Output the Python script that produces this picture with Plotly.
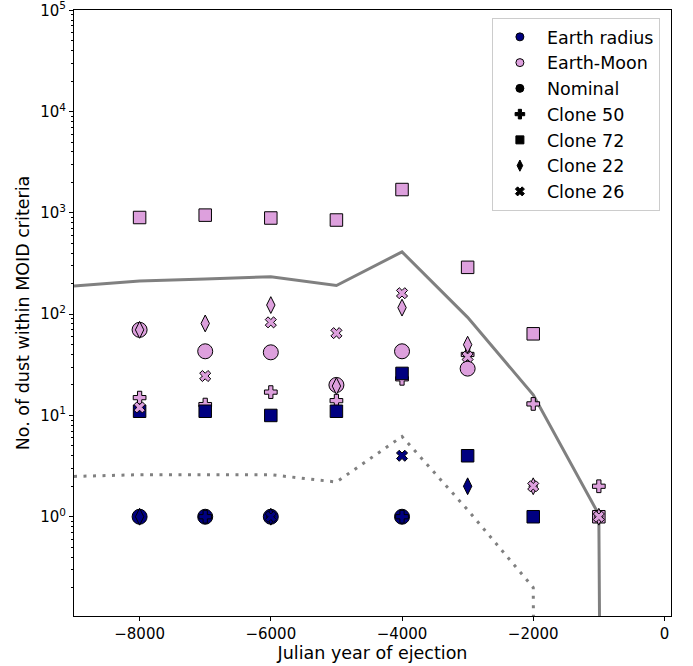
import plotly.graph_objects as go

# ---------------- data ----------------
years = [-8000, -7000, -6000, -5000, -4000, -3000, -2000, -1000]

# Earth radius criterion
er_nominal = [1, 1, 1, None, 1, None, None, None]
er_clone50 = [None, 1, None, None, 1, None, None, None]
er_clone72 = [11, 11, 10, 11, 26, 4, 1, None]
er_clone22 = [1, None, 1, None, None, 2, None, None]
er_clone26 = [None, None, 1, None, 4, None, None, None]

# Earth-Moon criterion
em_nominal = [70, 43, 42, 20, 43, 29, None, None]
em_clone50 = [15, 12.8, 17, 14, 23, 40, 13, 2]
em_clone72 = [900, 950, 890, 850, 1700, 290, 64, 1]
em_clone22 = [70, 81, 123, 19.5, 116, 50, 2, 1]
em_clone26 = [12, 24.5, 83, 65, 161, 38, 2, 1]

# reference curves
curve_years = [-9000, -8000, -7000, -6000, -5000, -4000, -3000, -2000, -1000, 0]
solid_curve = [190, 213, 222, 234, 192, 412, 93, 16, 1.05, 0]
dotted_curve = [2.5, 2.6, 2.6, 2.6, 2.2, 6.2, 1.17, 0.2, 0, 0]

y_tickvals = [1, 10, 100, 1000, 10000, 100000]
y_ticktext = ["10<sup>0</sup>", "10<sup>1</sup>", "10<sup>2</sup>",
              "10<sup>3</sup>", "10<sup>4</sup>", "10<sup>5</sup>"]
y_minor_tickvals = [k * 10.0 ** n for n in range(-1, 5) for k in range(2, 10)]
x_tickvals = [-8000, -6000, -4000, -2000, 0]
x_ticktext = ["\u22128000", "\u22126000", "\u22124000", "\u22122000", "0"]

legend_labels = ["Earth radius", "Earth-Moon", "Nominal", "Clone 50",
                 "Clone 72", "Clone 22", "Clone 26"]

# ---------------- styling ----------------
NAVY = "#000080"
PLUM = "#DDA0DD"
GRAY = "#808080"
FONT = "DejaVu Sans"
LOG_FLOOR = 1e-100  # non-positive values clipped like matplotlib's log scale
Y_RANGE = [-0.98, 5.003]


def clip(vals):
    return [v if v > 0 else LOG_FLOOR for v in vals]


fig = go.Figure()

fig.add_trace(go.Scatter(x=curve_years, y=clip(solid_curve), mode="lines",
                         line=dict(color=GRAY, width=3), showlegend=False,
                         hoverinfo="skip"))
fig.add_trace(go.Scatter(x=curve_years, y=clip(dotted_curve), mode="lines",
                         line=dict(color=GRAY, width=3, dash="3px,6.5px"),
                         showlegend=False, hoverinfo="skip"))

clones = [
    ("circle", 15, er_nominal, em_nominal),
    ("cross", 10.6, er_clone50, em_clone50),
    ("square", 12.5, er_clone72, em_clone72),
    ("diamond-tall", 12, er_clone22, em_clone22),
    ("x", 9.8, er_clone26, em_clone26),
]

for sym, size, er, em in clones:
    for vals, col in ((er, NAVY), (em, PLUM)):
        fig.add_trace(go.Scatter(
            x=years, y=vals, mode="markers", showlegend=False,
            marker=dict(symbol=sym, size=size, color=col,
                        line=dict(color="black", width=1))))

# legend entries (proxy traces)
legend_styles = [
    ("circle", NAVY), ("circle", PLUM), ("circle", "black"),
    ("cross", "black"), ("square", "black"), ("diamond-tall", "black"),
    ("x", "black"),
]
for label, (sym, col) in zip(legend_labels, legend_styles):
    fig.add_trace(go.Scatter(
        x=[None], y=[None], mode="markers", name=label,
        marker=dict(symbol=sym, size=8, color=col,
                    line=dict(color="black", width=1))))

# empty trace on the overlaying axis that carries the minor ticks
fig.add_trace(go.Scatter(x=[None], y=[None], yaxis="y2", showlegend=False,
                         hoverinfo="skip"))

fig.update_layout(
    width=693, height=666, autosize=False,
    margin=dict(l=74, r=22, t=10, b=50, autoexpand=False),
    plot_bgcolor="white", paper_bgcolor="white",
    font=dict(family=FONT, size=15, color="black"),
    legend=dict(x=0.700, y=0.9868, xanchor="left", yanchor="top",
                bgcolor="rgba(255,255,255,0.8)", bordercolor="#cccccc",
                borderwidth=1, font=dict(size=17.5, family=FONT),
                itemsizing="trace", itemwidth=44),
    xaxis=dict(range=[-9000, 100], tickmode="array", tickvals=x_tickvals,
               ticktext=x_ticktext, ticks="outside", ticklen=4,
               tickcolor="black", showline=True, linecolor="black",
               linewidth=1, mirror=True, showgrid=False, zeroline=False,
               ticklabeloverflow="allow", automargin=True,
               title=dict(text="Julian year of ejection",
                          font=dict(size=17.5, family=FONT), standoff=2)),
    yaxis=dict(type="log", range=Y_RANGE, tickmode="array",
               tickvals=y_tickvals, ticktext=y_ticktext, ticks="outside",
               ticklen=4, tickcolor="black", showline=True,
               linecolor="black", linewidth=1, mirror=True,
               showgrid=False, zeroline=False, ticklabeloverflow="allow",
               automargin=False,
               title=dict(text="No. of dust within MOID criteria",
                          font=dict(size=17.5, family=FONT), standoff=6)),
    yaxis2=dict(type="log", range=Y_RANGE, overlaying="y", side="left",
                tickmode="array", tickvals=y_minor_tickvals, ticks="outside",
                ticklen=2, tickcolor="black", showticklabels=False,
                showline=False, showgrid=False, zeroline=False,
                automargin=False),
)

fig.write_html("out.html",
               config={"displayModeBar": False},
               post_script="document.body.style.margin='0';")
